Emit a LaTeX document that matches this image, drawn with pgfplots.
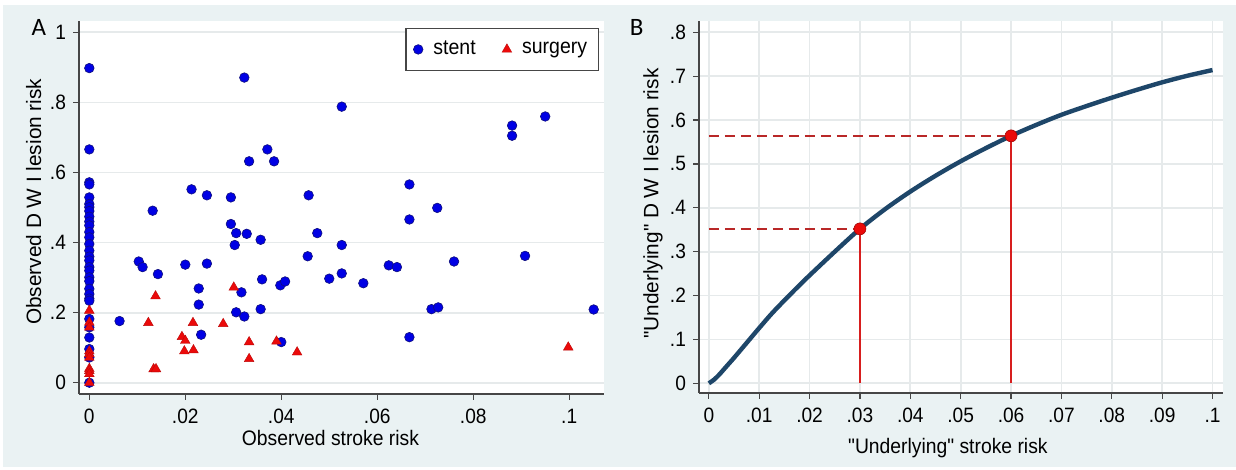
\documentclass[border=0pt]{standalone}
\usepackage{fontspec}
\setmainfont{Liberation Sans}[FakeStretch=0.92, Ligatures=TeXOff]
\newfontfamily\yfont{Liberation Sans}[Ligatures=TeXOff]
\newfontfamily\panelfont{Carlito}
\usepackage{pgfplots}
\pgfplotsset{compat=1.18}

\definecolor{bgcol}{RGB}{234,242,243}
\definecolor{gridcol}{RGB}{230,234,235}
\definecolor{axcol}{RGB}{70,70,70}
\definecolor{stentfill}{RGB}{0,0,228}
\definecolor{stentdraw}{RGB}{15,15,125}
\definecolor{surgred}{RGB}{235,10,10}
\definecolor{curvecol}{RGB}{30,70,105}
\definecolor{dashred}{RGB}{185,40,40}
\definecolor{vred}{RGB}{215,30,30}

\pgfplotsset{
  stata/.style={
    scale only axis,
    anchor=south west,
    axis x line*=bottom, axis y line*=left,
    axis line style={axcol, line width=0.6pt, -},
    tick align=outside, major tick length=3pt,
    tick style={axcol, line width=0.6pt},
    xtick pos=bottom, ytick pos=left,
    grid style={gridcol, line width=0.9pt},
    axis background/.style={fill=white},
    tick label style={font=\fontsize{10.4}{12}\selectfont},
    xticklabel style={yshift=-1pt},
    label style={font=\fontsize{10.5}{12}\selectfont},
    clip=false,
  }
}

\begin{document}
\begin{tikzpicture}
\useasboundingbox (0,0) rectangle (618pt,235pt);
\fill[white] (0,0) rectangle (618pt,235pt);
\fill[bgcol] (1.25pt,1.5pt) rectangle (618pt,232.5pt);

% panel A
\begin{axis}[stata,
  at={(39.5pt,38pt)}, width=262.5pt, height=186.6pt,
  xmin=-0.00215, xmax=0.10725, ymin=-0.0322, ymax=1.0331,
  xtick={0,0.02,0.04,0.06,0.08,0.1},
  xticklabels={0,.02,.04,.06,.08,.1},
  ytick={0,0.2,0.4,0.6,0.8,1},
  yticklabels={0,.2,.4,.6,.8,1},
  ymajorgrids,
  xlabel={Observed stroke risk},
  ylabel={Observed D W I lesion risk},
  xlabel style={at={(axis description cs:0.479,-0.119)}, anchor=center},
  ylabel style={at={(axis description cs:-0.0865,0.515)}, anchor=center, font=\yfont\fontsize{10.4}{12}\selectfont},
  legend columns=2,
  legend style={at={(0.990,0.981)}, anchor=north east, draw=axcol, line width=0.6pt,
    fill=white, font=\fontsize{10.6}{12}\selectfont, inner xsep=3.5pt, inner ysep=4.3pt,
    /tikz/every even column/.append style={column sep=11pt}},
  legend image code/.code={\draw[mark repeat=1,#1] plot coordinates {(0pt,0pt)}; \path[draw=none] (-2.6pt,0pt) -- (5.6pt,0pt);},
]
\addplot[only marks, mark=*, mark size=2.4pt, mark options={fill=stentfill, draw=stentdraw, line width=0.3pt}] coordinates {
 (0,0.898)(0,0.666)(0,0.572)(0,0.566)(0,0.529)(0,0.510)(0,0.501)(0,0.490)(0,0.474)
 (0,0.460)(0,0.449)(0,0.430)(0,0.415)(0,0.396)(0,0.377)(0,0.360)(0,0.349)(0,0.330)
 (0,0.320)(0,0.301)(0,0.290)(0,0.268)(0,0.253)(0,0.240)(0,0.234)(0,0.182)(0,0.158)
 (0,0.129)(0,0.096)(0,0.072)(0,0.0)
 (0.0063,0.176)(0.0103,0.346)(0.0111,0.330)(0.0132,0.491)(0.0143,0.310)
 (0.0200,0.337)(0.0213,0.552)(0.0228,0.269)(0.0228,0.223)(0.0233,0.137)
 (0.0245,0.535)(0.0245,0.340)(0.0295,0.529)(0.0295,0.453)(0.0303,0.393)
 (0.0306,0.427)(0.0306,0.201)(0.0317,0.258)(0.0323,0.871)(0.0323,0.189)
 (0.0328,0.425)(0.0333,0.632)(0.0357,0.408)(0.0357,0.210)(0.0360,0.295)
 (0.0371,0.666)(0.0385,0.632)(0.0398,0.278)(0.0400,0.116)(0.0408,0.289)
 (0.0455,0.361)(0.0457,0.535)(0.0475,0.427)(0.0500,0.297)(0.0526,0.788)
 (0.0526,0.393)(0.0526,0.312)(0.0571,0.284)(0.0624,0.335)(0.0641,0.330)
 (0.0667,0.566)(0.0667,0.466)(0.0667,0.130)(0.0713,0.210)(0.0727,0.215)
 (0.0725,0.499)(0.0760,0.346)(0.0881,0.734)(0.0881,0.705)(0.0908,0.362)
 (0.0950,0.760)(0.1051,0.209)
};
\addlegendentry{stent}
\addplot[only marks, mark=triangle*, mark size=2.8pt, mark options={fill=surgred, draw=surgred!80!black, line width=0.2pt}] coordinates {
 (0,0.206)(0,0.172)(0,0.158)(0,0.090)(0,0.082)(0,0.072)(0,0.040)(0,0.034)(0,0.025)(0,0.0)
 (0.0123,0.171)(0.0134,0.039)(0.0139,0.039)(0.0138,0.247)(0.0193,0.131)
 (0.0198,0.090)(0.0200,0.120)(0.0216,0.171)(0.0217,0.093)(0.0279,0.168)
 (0.0301,0.272)(0.0333,0.116)(0.0333,0.068)(0.0390,0.118)(0.0433,0.087)
 (0.0998,0.101)
};
\addlegendentry{surgery\hspace{4pt}}
\end{axis}

% panel B
\begin{axis}[stata,
  at={(349.5pt,38.5pt)}, width=262pt, height=186pt,
  xmin=-0.00195, xmax=0.10208, ymin=-0.0221, ymax=0.8258,
  xtick={0,0.01,0.02,0.03,0.04,0.05,0.06,0.07,0.08,0.09,0.1},
  xticklabels={0,.01,.02,.03,.04,.05,.06,.07,.08,.09,.1},
  ytick={0,0.1,0.2,0.3,0.4,0.5,0.6,0.7,0.8},
  yticklabels={0,.1,.2,.3,.4,.5,.6,.7,.8},
  xmajorgrids, ymajorgrids,
  xlabel={"Underlying" stroke risk},
  ylabel={"Underlying" D W I lesion risk},
  xlabel style={at={(axis description cs:0.475,-0.148)}, anchor=center},
  ylabel style={at={(axis description cs:-0.0878,0.509)}, anchor=center, font=\yfont\fontsize{10.4}{12}\selectfont},
]
\addplot[dashred, line width=0.8pt, dash pattern=on 5pt off 3pt] coordinates {(0,0.352)(0.03,0.352)};
\addplot[dashred, line width=0.8pt, dash pattern=on 5pt off 3pt] coordinates {(0,0.564)(0.06,0.564)};
\addplot[vred, line width=0.6pt] coordinates {(0.03,0)(0.03,0.352)};
\addplot[vred, line width=0.6pt] coordinates {(0.06,0)(0.06,0.564)};
\addplot[curvecol, line width=2.2pt, smooth] coordinates {
 (0,0)(0.001,0.008)(0.002,0.019)(0.003,0.032)(0.004,0.045)(0.005,0.058)
 (0.0075,0.092)(0.01,0.126)(0.0125,0.159)(0.015,0.189)(0.0175,0.218)(0.02,0.246)
 (0.025,0.300)(0.03,0.352)(0.035,0.397)(0.04,0.437)(0.045,0.473)(0.05,0.506)
 (0.055,0.536)(0.06,0.564)(0.065,0.589)(0.07,0.612)(0.075,0.632)(0.08,0.651)
 (0.085,0.669)(0.09,0.686)(0.095,0.701)(0.1,0.714)
};
\addplot[only marks, mark=*, mark size=3pt, mark options={fill=surgred, draw=surgred!70!black, line width=0.3pt}] coordinates {(0.03,0.352)(0.06,0.564)};
\end{axis}

\node[font=\panelfont\fontsize{12.5}{14}\selectfont] at (19.4pt,221.5pt) {A};
\node[font=\panelfont\fontsize{12.5}{14}\selectfont] at (318.3pt,221.5pt) {B};
\end{tikzpicture}
\end{document}
